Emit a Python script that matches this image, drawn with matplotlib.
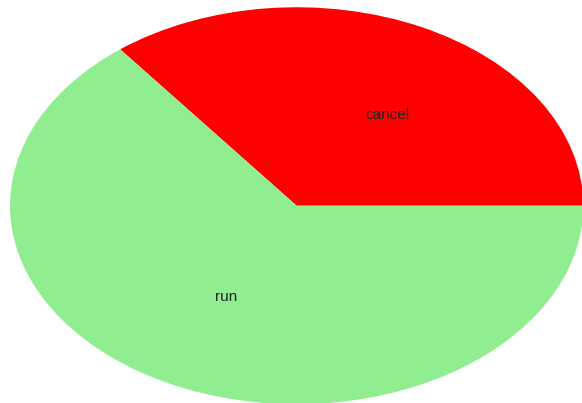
import numpy as np
import matplotlib
matplotlib.use("Agg")
import matplotlib.pyplot as plt

# share of jobs by final state
labels = ["cancel", "run"]
counts = [16, 29]
colors = ["#ff0000", "#90ee90"]

fig = plt.figure(figsize=(5.82, 4.03), dpi=100)
ax = fig.add_axes([0.0172, -0.003, 0.985, 0.985])

wedges, _ = ax.pie(counts, colors=colors, startangle=0, counterclock=True,
                   wedgeprops=dict(linewidth=0))
ax.set_aspect("auto")
ax.set_xlim(-1, 1)
ax.set_ylim(-1, 1)
ax.axis("off")

# labels placed inside each wedge along its mid-angle
for w, lab in zip(wedges, labels):
    mid = np.deg2rad((w.theta1 + w.theta2) / 2)
    x = 0.035 + 0.64 * np.cos(mid)
    y = 0.51 * np.sin(mid)
    ax.text(x, y, lab, ha="center", va="center", fontsize=11,
            family="Liberation Sans", color="#222222")

fig.savefig("out.png", dpi=100)
